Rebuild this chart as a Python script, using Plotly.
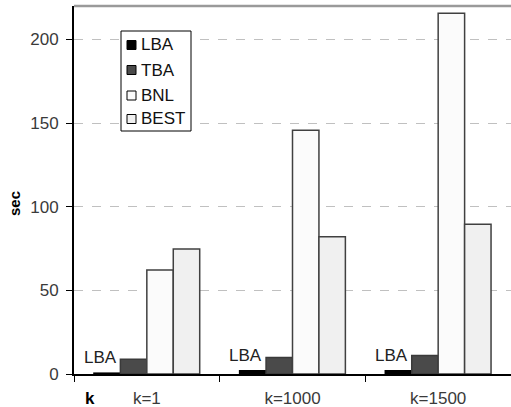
import plotly.graph_objects as go

# Run time (sec) of each method for three values of k
categories = ["k=1", "k=1000", "k=1500"]
series_names = ["LBA", "TBA", "BNL", "BEST"]
lba = [0.5, 1.9, 1.9]
tba = [8.8, 9.8, 11.0]
bnl = [62.2, 145.7, 215.6]
best = [74.8, 82.1, 89.5]
y_ticks = [0, 50, 100, 150, 200]

series_values = [lba, tba, bnl, best]
fills = ["#000000", "#4a4a4a", "#fbfbfb", "#f0f0f0"]
edges = ["#000000", "#3a3a3a", "#404040", "#404040"]

W, H = 511, 407
ML, MR, MT, MB = 74, 0, 6, 33
PW, PH = W - ML - MR, H - MT - MB
FONT = "Liberation Sans, Arial, sans-serif"
FS = 17
TEXT = "#3a3a3a"
BARGAP = 0.274


def px_x(x):
    return (x - ML) / PW


def px_y(y):
    return (H - MB - y) / PH


fig = go.Figure()
for name, vals, fc, ec in zip(series_names, series_values, fills, edges):
    fig.add_trace(go.Bar(
        x=categories, y=vals, name=name,
        marker=dict(color=fc, line=dict(color=ec, width=1.5)),
        showlegend=False,
    ))

# "LBA" callouts over the tiny LBA bars
bar_w = PW / len(categories) * (1 - BARGAP) / len(series_names)
lba_offset = -1.5 * bar_w
for cat, v in zip(categories, lba):
    fig.add_annotation(
        x=cat, y=v, xref="x", yref="y", text="LBA", showarrow=False,
        xanchor="center", yanchor="bottom", xshift=lba_offset - 7, yshift=4,
        font=dict(family=FONT, size=FS, color="#222222"),
    )

# Boxed legend in the upper left
box_l, box_r, box_t, box_b = 121, 191, 31, 131
shapes = [dict(type="rect", xref="paper", yref="paper",
               x0=px_x(box_l), x1=px_x(box_r), y0=px_y(box_b), y1=px_y(box_t),
               line=dict(color="#000000", width=1), fillcolor="#ffffff", layer="above")]
row_centers = [45, 70, 95.5, 119]
for name, fc, yc in zip(series_names, fills, row_centers):
    shapes.append(dict(type="rect", xref="paper", yref="paper",
                       x0=px_x(127), x1=px_x(136), y0=px_y(yc + 4.5), y1=px_y(yc - 4.5),
                       line=dict(color="#000000", width=1), fillcolor=fc, layer="above"))
    fig.add_annotation(x=px_x(139), y=px_y(yc), xref="paper", yref="paper",
                       text=name, showarrow=False, xanchor="left", yanchor="middle",
                       font=dict(family=FONT, size=FS, color="#111111"))

# Frame line along the top of the plot area
shapes.append(dict(type="line", xref="paper", yref="paper", x0=0, x1=1, y0=1, y1=1,
                   line=dict(color="#9a9a9a", width=2.5), layer="above"))

# Axis titles
fig.add_annotation(x=px_x(14), y=px_y(204), xref="paper", yref="paper", text="<b>sec</b>",
                   textangle=-90, showarrow=False, xanchor="center", yanchor="middle",
                   font=dict(family=FONT, size=15, color="#000000"))
fig.add_annotation(x=px_x(90), y=px_y(398), xref="paper", yref="paper", text="<b>k</b>",
                   showarrow=False, xanchor="center", yanchor="middle",
                   font=dict(family=FONT, size=17, color="#000000"))

fig.update_layout(
    width=W, height=H,
    margin=dict(l=ML, r=MR, t=MT, b=MB, pad=0, autoexpand=False),
    paper_bgcolor="#ffffff", plot_bgcolor="#ffffff",
    barmode="group", bargap=BARGAP, bargroupgap=0,
    shapes=shapes,
    font=dict(family=FONT, size=FS, color=TEXT),
    xaxis=dict(
        type="category", range=[-0.5, 2.5], automargin=False,
        showline=True, linecolor="#000000", linewidth=1.5,
        ticks="outside", tickson="boundaries", ticklen=6, tickcolor="#000000", tickwidth=1,
        showgrid=False, ticklabelstandoff=8,
        tickfont=dict(family=FONT, size=FS, color=TEXT),
    ),
    yaxis=dict(
        range=[0, 220], tickvals=y_ticks, automargin=False,
        showline=True, linecolor="#000000", linewidth=2,
        ticks="outside", ticklen=6, tickcolor="#000000", tickwidth=1,
        showgrid=True, gridcolor="#c0c0c0", griddash="dash", gridwidth=1,
        zeroline=False, ticklabelstandoff=4,
        tickfont=dict(family=FONT, size=FS, color=TEXT),
    ),
)

fig.write_html("out.html")
